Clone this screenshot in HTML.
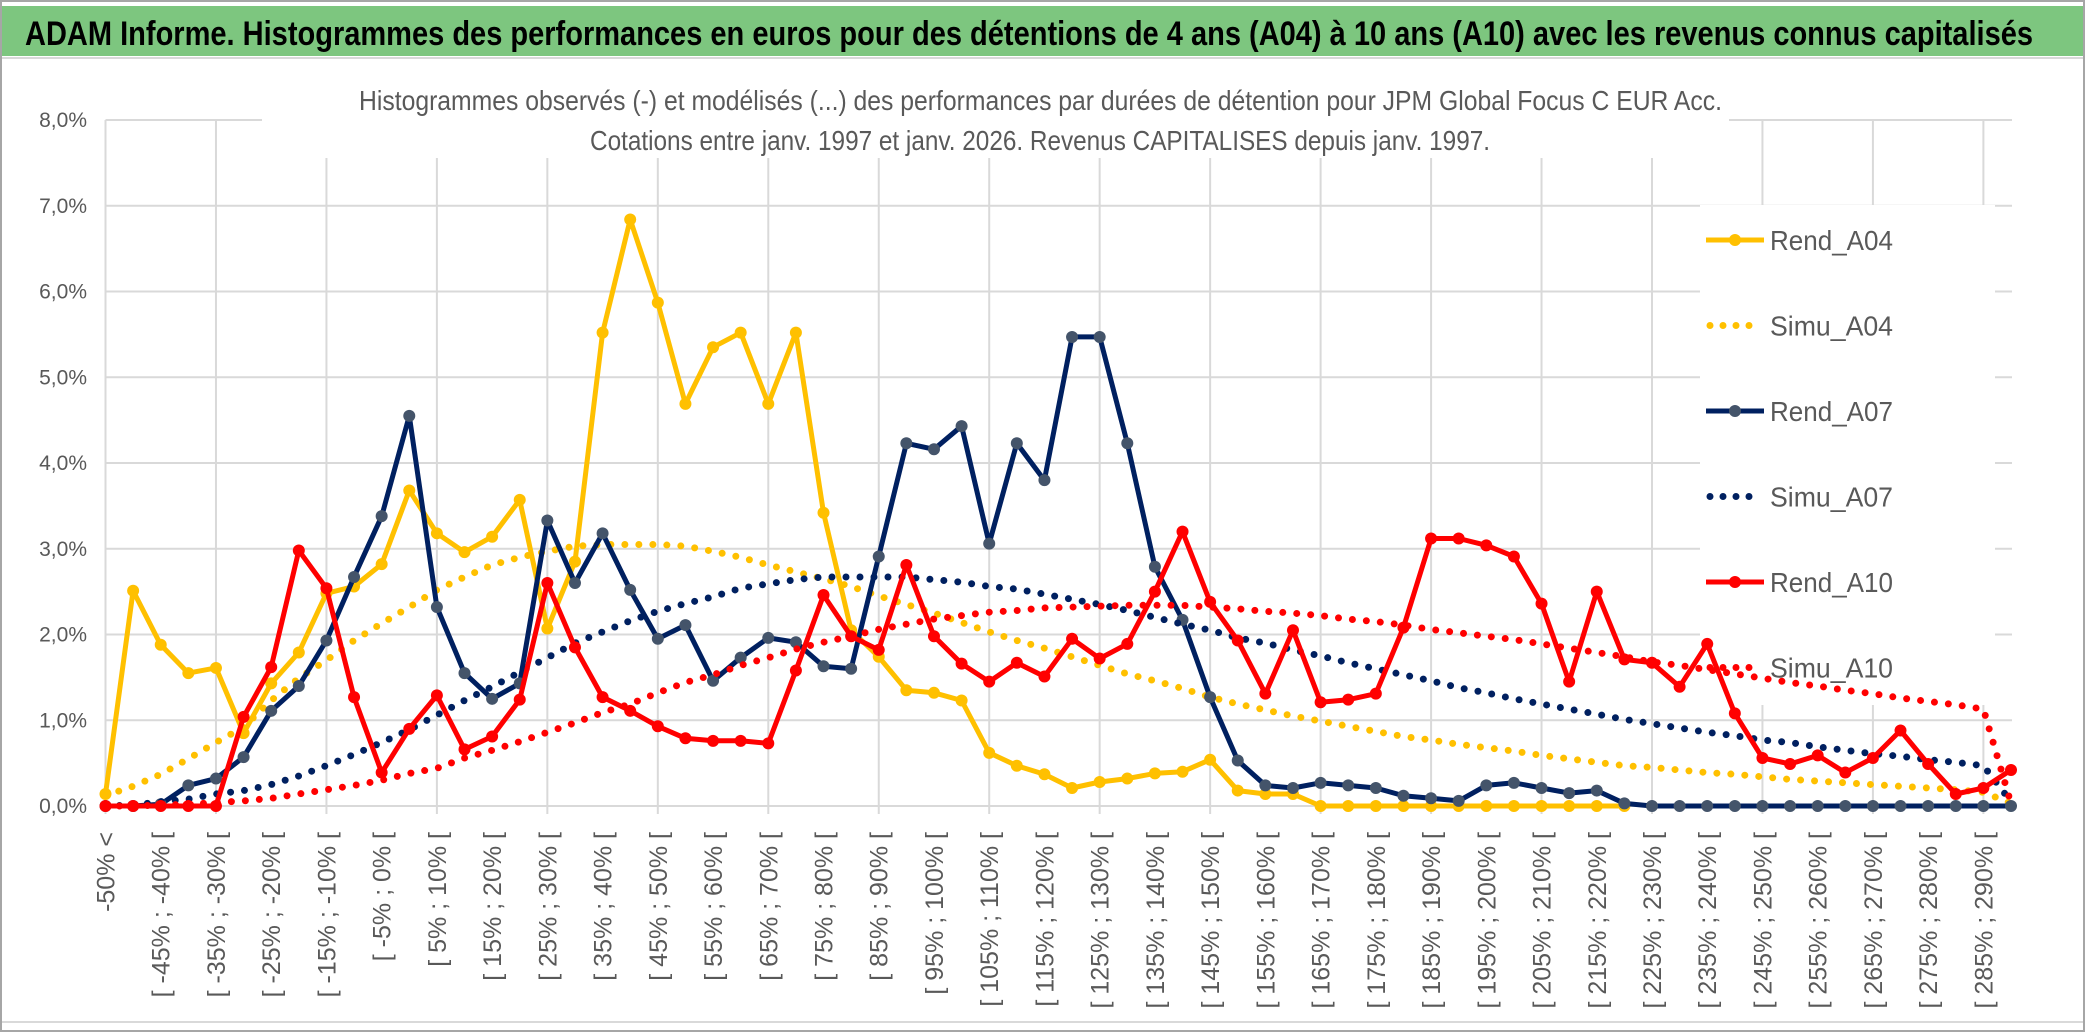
<!DOCTYPE html>
<html><head><meta charset="utf-8">
<style>
html,body{margin:0;padding:0;background:#fff;}
svg{display:block;font-family:"Liberation Sans",sans-serif;}
</style></head>
<body>
<svg id="chart" width="2086" height="1033" viewBox="0 0 2086 1033" xmlns="http://www.w3.org/2000/svg">
  <rect x="0" y="0" width="2086" height="1033" fill="#fff"/>
  <rect x="1" y="1" width="2083" height="1030" fill="none" stroke="#a6a6a6" stroke-width="2"/>
  <rect x="2" y="6" width="2081" height="50" fill="#7dc67f"/>
  <line x1="2" y1="58" x2="2083" y2="58" stroke="#d9d9d9" stroke-width="2"/>
  <text x="25" y="45" font-size="34" font-weight="bold" fill="#000" textLength="2008" lengthAdjust="spacingAndGlyphs">ADAM Informe. Histogrammes des performances en euros pour des détentions de 4 ans (A04) à 10 ans (A10) avec les revenus connus capitalisés</text>
  <g id="grid"></g>
  <rect x="262" y="84" width="1467" height="74" fill="#fff"/>
  <rect x="1700" y="205" width="295" height="500" fill="#fff"/>
  <text x="359" y="110" font-size="28" fill="#595959" textLength="1363" lengthAdjust="spacingAndGlyphs">Histogrammes observés (-) et modélisés (...) des performances par durées de détention pour JPM Global Focus C EUR Acc.</text>
  <text x="590" y="150" font-size="28" fill="#595959" textLength="900" lengthAdjust="spacingAndGlyphs">Cotations entre janv. 1997 et janv. 2026. Revenus CAPITALISES depuis janv. 1997.</text>
  <g id="yaxis"></g>
  <g id="xaxis"></g>
  <g id="series"></g>
  <g id="legend"></g>
  <line x1="2" y1="1022" x2="2083" y2="1022" stroke="#d9d9d9" stroke-width="2"/>
</svg>
<script>
const categories = ["-50% <","[ -50% ; -45% [","[ -45% ; -40% [","[ -40% ; -35% [","[ -35% ; -30% [","[ -30% ; -25% [","[ -25% ; -20% [","[ -20% ; -15% [","[ -15% ; -10% [","[ -10% ; -5% [","[ -5% ; 0% [","[ 0% ; 5% [","[ 5% ; 10% [","[ 10% ; 15% [","[ 15% ; 20% [","[ 20% ; 25% [","[ 25% ; 30% [","[ 30% ; 35% [","[ 35% ; 40% [","[ 40% ; 45% [","[ 45% ; 50% [","[ 50% ; 55% [","[ 55% ; 60% [","[ 60% ; 65% [","[ 65% ; 70% [","[ 70% ; 75% [","[ 75% ; 80% [","[ 80% ; 85% [","[ 85% ; 90% [","[ 90% ; 95% [","[ 95% ; 100% [","[ 100% ; 105% [","[ 105% ; 110% [","[ 110% ; 115% [","[ 115% ; 120% [","[ 120% ; 125% [","[ 125% ; 130% [","[ 130% ; 135% [","[ 135% ; 140% [","[ 140% ; 145% [","[ 145% ; 150% [","[ 150% ; 155% [","[ 155% ; 160% [","[ 160% ; 165% [","[ 165% ; 170% [","[ 170% ; 175% [","[ 175% ; 180% [","[ 180% ; 185% [","[ 185% ; 190% [","[ 190% ; 195% [","[ 195% ; 200% [","[ 200% ; 205% [","[ 205% ; 210% [","[ 210% ; 215% [","[ 215% ; 220% [","[ 220% ; 225% [","[ 225% ; 230% [","[ 230% ; 235% [","[ 235% ; 240% [","[ 240% ; 245% [","[ 245% ; 250% [","[ 250% ; 255% [","[ 255% ; 260% [","[ 260% ; 265% [","[ 265% ; 270% [","[ 270% ; 275% [","[ 275% ; 280% [","[ 280% ; 285% [","[ 285% ; 290% [","[ 290% ; 295% ["];
const yTicks = [0,1,2,3,4,5,6,7,8];
const yTickLabels = ["0,0%","1,0%","2,0%","3,0%","4,0%","5,0%","6,0%","7,0%","8,0%"];
const rendA04 = [0.14,2.51,1.88,1.55,1.61,0.85,1.43,1.79,2.48,2.56,2.82,3.68,3.18,2.96,3.14,3.57,2.07,2.85,5.52,6.84,5.87,4.69,5.35,5.52,4.69,5.52,3.42,2.05,1.74,1.35,1.32,1.23,0.62,0.47,0.37,0.21,0.28,0.32,0.38,0.40,0.54,0.18,0.14,0.14,0,0,0,0,0,0,0,0,0,0,0,0];
const simuA04 = [0.12,0.23,0.37,0.55,0.74,0.92,1.23,1.49,1.70,1.93,2.13,2.32,2.52,2.67,2.81,2.90,2.97,3.03,3.05,3.05,3.05,3.03,2.97,2.90,2.81,2.73,2.65,2.56,2.45,2.35,2.25,2.14,2.03,1.93,1.84,1.74,1.64,1.54,1.46,1.37,1.27,1.19,1.12,1.05,0.99,0.93,0.87,0.81,0.77,0.72,0.68,0.64,0.59,0.55,0.51,0.47,0.45,0.42,0.39,0.37,0.34,0.31,0.29,0.27,0.25,0.23,0.21,0.19,0.16,0.03];
const rendA07 = [0,0,0.02,0.24,0.32,0.57,1.11,1.40,1.93,2.67,3.38,4.55,2.32,1.55,1.25,1.43,3.33,2.60,3.18,2.52,1.95,2.11,1.46,1.73,1.96,1.91,1.63,1.60,2.91,4.23,4.16,4.43,3.06,4.23,3.80,5.47,5.47,4.23,2.79,2.17,1.27,0.53,0.24,0.21,0.27,0.24,0.21,0.12,0.09,0.06,0.24,0.27,0.21,0.15,0.18,0.03,0,0,0,0,0,0,0,0,0,0,0,0,0,0];
const simuA07 = [0,0.01,0.05,0.08,0.14,0.18,0.25,0.35,0.47,0.60,0.74,0.89,1.06,1.23,1.39,1.56,1.73,1.90,2.03,2.16,2.27,2.36,2.44,2.54,2.59,2.64,2.67,2.67,2.67,2.67,2.64,2.61,2.56,2.53,2.47,2.41,2.35,2.28,2.20,2.12,2.05,1.96,1.90,1.82,1.75,1.67,1.60,1.53,1.46,1.38,1.32,1.25,1.19,1.13,1.07,1.01,0.96,0.91,0.86,0.82,0.77,0.74,0.69,0.65,0.61,0.58,0.54,0.51,0.47,0.05];
const rendA10 = [0,0,0,0,0,1.04,1.62,2.98,2.54,1.27,0.39,0.90,1.29,0.66,0.81,1.24,2.60,1.85,1.27,1.11,0.93,0.79,0.76,0.76,0.73,1.58,2.46,1.98,1.82,2.81,1.98,1.66,1.45,1.67,1.51,1.95,1.72,1.89,2.50,3.20,2.38,1.93,1.31,2.05,1.21,1.24,1.31,2.08,3.12,3.12,3.04,2.91,2.36,1.45,2.50,1.71,1.67,1.39,1.89,1.08,0.56,0.49,0.59,0.39,0.56,0.88,0.49,0.14,0.21,0.42];
const simuA10 = [0,0,0.01,0.02,0.04,0.06,0.09,0.14,0.19,0.24,0.30,0.38,0.44,0.56,0.65,0.75,0.86,0.97,1.09,1.19,1.32,1.44,1.53,1.64,1.73,1.83,1.91,1.98,2.06,2.12,2.18,2.22,2.26,2.28,2.31,2.32,2.33,2.34,2.34,2.34,2.32,2.30,2.27,2.25,2.22,2.18,2.15,2.11,2.06,2.02,1.98,1.94,1.89,1.84,1.79,1.74,1.68,1.64,1.59,1.54,1.49,1.44,1.40,1.35,1.31,1.26,1.22,1.18,1.13,0.03];

const NS = "http://www.w3.org/2000/svg";
const X0 = 105.5, X1 = 2011, Y0 = 806, PX_PER_PCT = 85.75, PLOT_RIGHT = 2012;
const n = categories.length;
function xScale(i){ return X0 + i*(X1-X0)/(n-1); }
function yScale(v){ return Y0 - v*PX_PER_PCT; }
function mk(tag, attrs, parent){ const e=document.createElementNS(NS,tag); for(const k in attrs) e.setAttribute(k,attrs[k]); parent.appendChild(e); return e; }

const grid = document.getElementById('grid');
yTicks.forEach(function(t){
  const l = mk('line',{x1:X0,x2:PLOT_RIGHT,y1:yScale(t),y2:yScale(t),stroke:'#d9d9d9','stroke-width':2},grid);
  
  
});
for(let i=0;i<n;i+=4){
  const l = mk('line',{x1:xScale(i),x2:xScale(i),y1:yScale(8),y2:Y0+8,stroke:'#d9d9d9','stroke-width':2},grid);
  
  
}
const yaxis = document.getElementById('yaxis');
yTicks.forEach(function(t,k){
  const tx = mk('text',{x:87,y:yScale(t)+7,'font-size':21,fill:'#595959','text-anchor':'end'},yaxis);
  tx.textContent = yTickLabels[k];
  
  
});
const xaxis = document.getElementById('xaxis');
for(let i=0;i<n;i+=2){
  const x = xScale(i)+9, y = 832;
  const tx = mk('text',{x:x,y:y,'font-size':25,fill:'#595959','text-anchor':'end',transform:'rotate(-90 '+x+' '+y+')'},xaxis);
  tx.textContent = categories[i];
  
  
}
const seriesG = document.getElementById('series');
function pathFor(arr){ let d=''; arr.forEach(function(v,i){ d += (i?'L':'M')+xScale(i).toFixed(1)+','+yScale(v).toFixed(1); }); return d; }
function drawRend(arr,color,marker,name){
  const g = mk('g',{},seriesG);
  
  
  const p = mk('path',{d:pathFor(arr),fill:'none',stroke:color,'stroke-width':5,'stroke-linejoin':'round'},g);
  
  
  arr.forEach(function(v,i){
    const c = mk('circle',{cx:xScale(i),cy:yScale(v),r:6,fill:marker},g);
    
    
  });
}
function drawSimu(arr,color,name){
  const p = mk('path',{d:pathFor(arr),fill:'none',stroke:color,'stroke-width':7,'stroke-linecap':'round','stroke-dasharray':'0 14'},seriesG);
  
  
}
drawRend(rendA04,'#ffc000','#ffc000','rend-a04');
drawSimu(simuA04,'#ffc000','simu-a04');
drawRend(rendA07,'#002060','#44546a','rend-a07');
drawSimu(simuA07,'#002060','simu-a07');
drawRend(rendA10,'#ff0000','#ff0000','rend-a10');
drawSimu(simuA10,'#ff0000','simu-a10');

const legend = document.getElementById('legend');
const legendItems = [["Rend_A04","#ffc000","#ffc000",false],["Simu_A04","#ffc000","#ffc000",true],["Rend_A07","#002060","#44546a",false],["Simu_A07","#002060","#002060",true],["Rend_A10","#ff0000","#ff0000",false],["Simu_A10","#ff0000","#ff0000",true]];
legendItems.forEach(function(it,k){
  const y = 240 + k*85.5;
  const g = mk('g',{},legend);
  
  
  if(it[3]){
    mk('line',{x1:1710,x2:1762,y1:y,y2:y,stroke:it[1],'stroke-width':7,'stroke-linecap':'round','stroke-dasharray':'0 13'},g);
  } else {
    mk('line',{x1:1706,x2:1764,y1:y,y2:y,stroke:it[1],'stroke-width':5},g);
    mk('circle',{cx:1735,cy:y,r:6,fill:it[2]},g);
  }
  const t = mk('text',{x:1770,y:y+10,'font-size':28,fill:'#595959',textLength:123,lengthAdjust:'spacingAndGlyphs'},g);
  t.textContent = it[0];
});
</script>
</body></html>
